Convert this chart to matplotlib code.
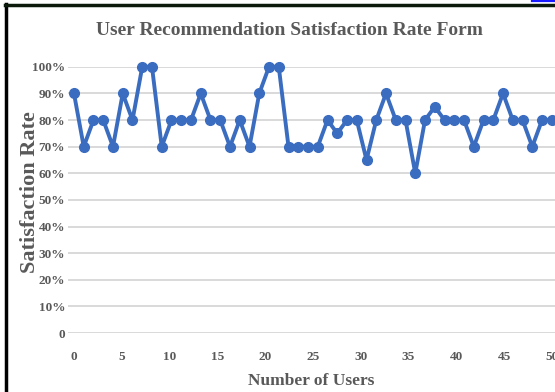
import numpy as np
import matplotlib.pyplot as plt
from matplotlib.lines import Line2D

# satisfaction rate (%) for each user
users = np.arange(50)
rates = [90, 70, 80, 80, 70, 90, 80, 100, 100, 70,
         80, 80, 80, 90, 80, 80, 70, 80, 70, 90,
         100, 100, 70, 70, 70, 70, 80, 75, 80, 80,
         65, 80, 90, 80, 80, 60, 80, 85, 80, 80,
         80, 70, 80, 80, 90, 80, 80, 70, 80, 80]

xtick_labels = [str(v) for v in range(0, 51, 5)]
ytick_values = list(range(0, 101, 10))
ytick_labels = ['0'] + [f'{v}%' for v in ytick_values[1:]]

gray = '#595959'
blue = '#3a6cc0'
serif = 'Liberation Serif'

fig = plt.figure(figsize=(5.55, 3.92), dpi=100)
ax = fig.add_axes([0.1225, 0.1505, 0.8775, 0.679])

ax.plot(users, rates, color=blue, lw=2.8, marker='o', ms=7,
        clip_on=False, zorder=3)

ax.set_xlim(-0.615, 49.33)
ax.set_ylim(0, 100)
ax.set_xticks(np.linspace(0, 49, len(xtick_labels)))
ax.set_xticklabels(xtick_labels)
ax.set_yticks(ytick_values)
ax.set_yticklabels(ytick_labels)

for s in ax.spines.values():
    s.set_visible(False)
ax.grid(axis='y', color='#d9d9d9', lw=1.4)
ax.set_axisbelow(True)
ax.tick_params(length=0, labelcolor=gray)
ax.tick_params(axis='x', pad=13)
ax.tick_params(axis='y', pad=2)
for lab in ax.get_xticklabels() + ax.get_yticklabels():
    lab.set_fontfamily(serif)
    lab.set_fontweight('bold')
    lab.set_fontsize(9.5)

fig.text(0.521, 0.922, 'User Recommendation Satisfaction Rate Form',
         ha='center', va='center', family=serif, weight='bold',
         fontsize=14, color=gray)
ax.set_xlabel('Number of Users', family=serif, weight='bold',
              fontsize=12.5, color=gray, labelpad=7)
fig.text(0.054, 0.51, 'Satisfaction Rate', rotation=90, ha='center',
         va='center', family=serif, weight='bold', fontsize=16, color=gray)

# outer frame lines
fig.add_artist(Line2D([5.5 / 555, 5.5 / 555], [0, 1 - 4 / 392],
                      transform=fig.transFigure, color='black', lw=2.5))
fig.add_artist(Line2D([4.5 / 555, 1], [1 - 4.5 / 392, 1 - 4.5 / 392],
                      transform=fig.transFigure, color='#0b1a0b', lw=2.5))
fig.add_artist(Line2D([532 / 555, 1], [1 - 0.8 / 392, 1 - 0.8 / 392],
                      transform=fig.transFigure, color='#1a1aff', lw=1.6))

fig.savefig('out.png', dpi=100)
